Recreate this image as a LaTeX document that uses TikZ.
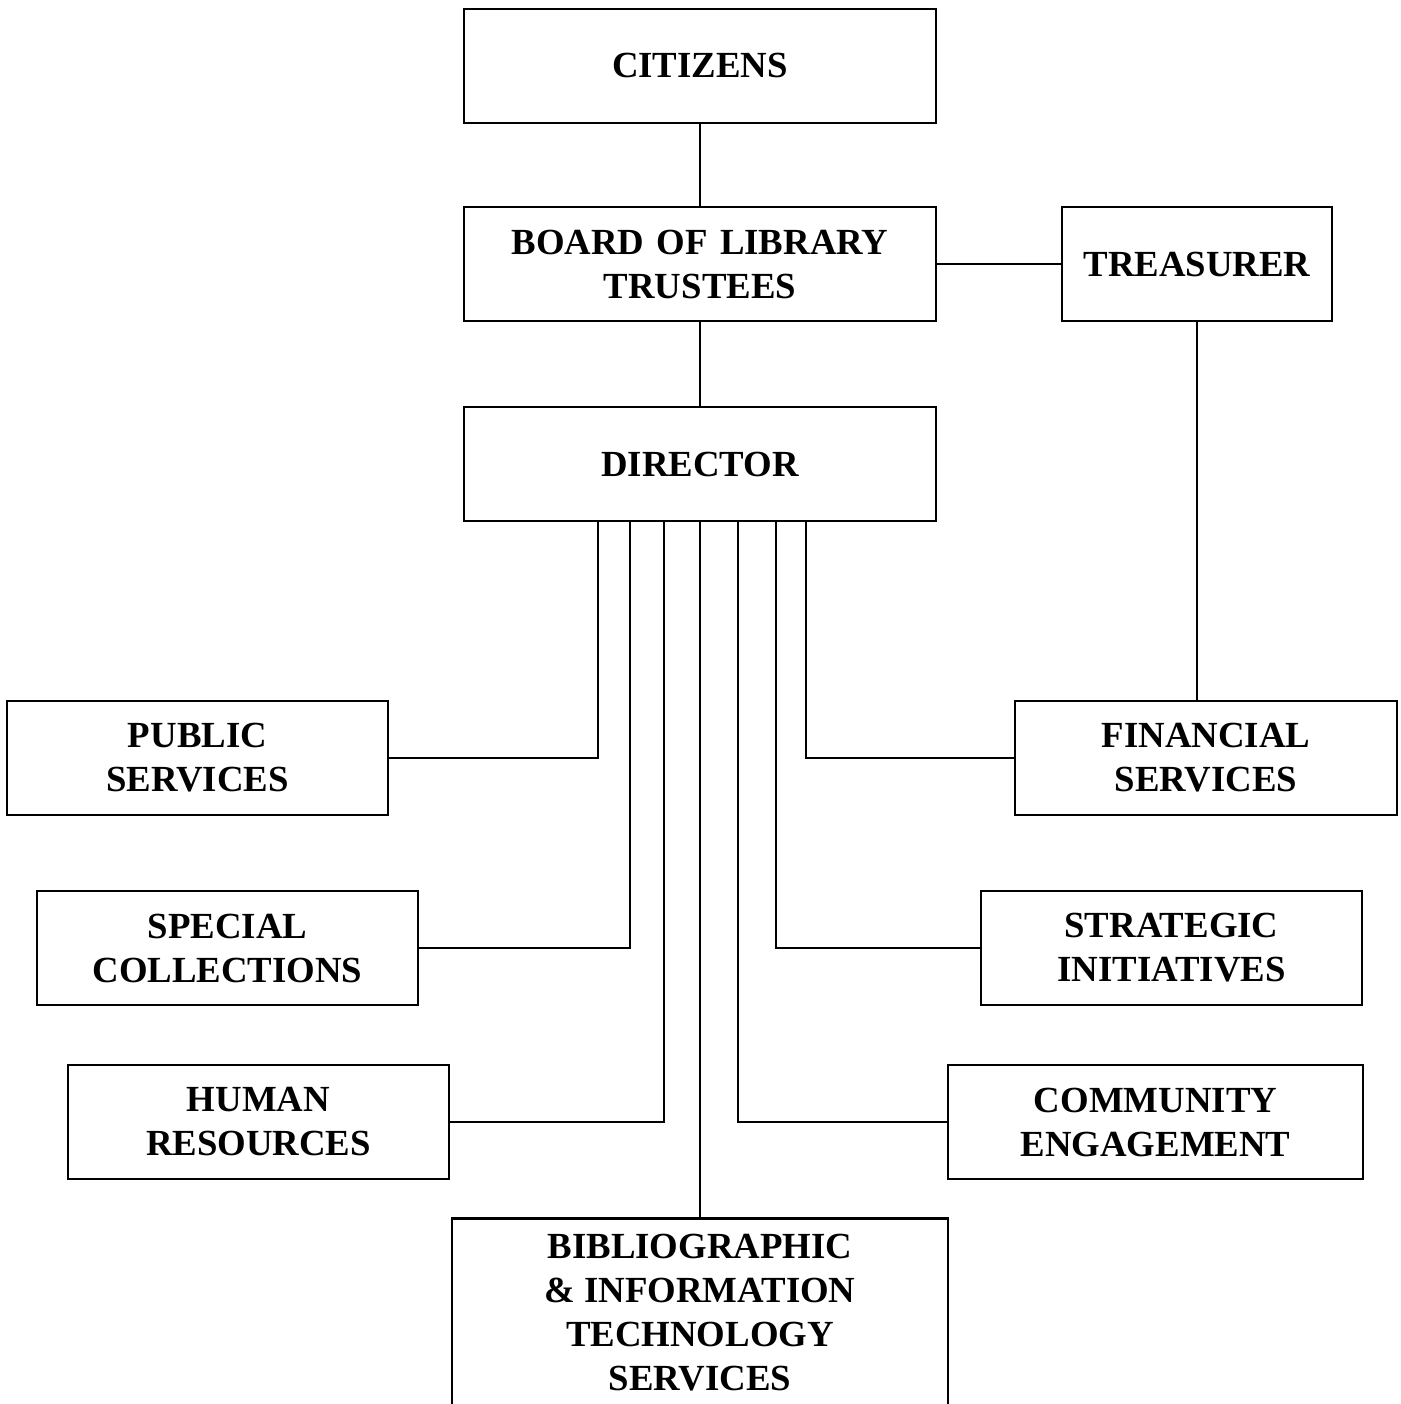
\documentclass[tikz,border=0pt]{standalone}
\usepackage{fontspec}
\setmainfont{Liberation Serif}
\usetikzlibrary{calc}
\begin{document}
\begin{tikzpicture}[x=1pt,y=-1pt,
  box/.style={draw, line width=2.8pt, inner sep=0pt, align=center,
    font=\fontsize{36.8}{44}\selectfont\bfseries},
  conn/.style={line width=2.8pt}]
\useasboundingbox (0,0) rectangle (1400,1404);
\newcommand{\mkbox}[6]{%
  \node[box, minimum width=#4-#2, minimum height=#5-#3, text width=#4-#2]
    (#1) at ({(#2+#4)/2},{(#3+#5)/2}) {#6};}
\mkbox{cit}{464}{9}{936}{123}{CITIZENS}
\mkbox{brd}{464}{207}{936}{321}{BOARD OF LIBRARY\\TRUSTEES}
\mkbox{tre}{1062}{207}{1332}{321}{TREASURER}
\mkbox{dir}{464}{407}{936}{521}{DIRECTOR}
\mkbox{pub}{7}{701}{388}{815}{PUBLIC\\SERVICES}
\mkbox{fin}{1015}{701}{1397}{815}{FINANCIAL\\SERVICES}
\mkbox{spc}{37}{891}{418}{1005}{SPECIAL\\COLLECTIONS}
\mkbox{str}{981}{891}{1362}{1005}{STRATEGIC\\INITIATIVES}
\mkbox{hum}{68}{1065}{449}{1179}{HUMAN\\RESOURCES}
\mkbox{com}{948}{1065}{1363}{1179}{COMMUNITY\\ENGAGEMENT}
\node[box, minimum width=496, minimum height=210, text width=496, anchor=north]
  (bib) at (700,1217) {};
\node[font=\fontsize{36.8}{44}\selectfont\bfseries, align=center, anchor=north, inner sep=0pt]
  (bibt) at (700,1234) {BIBLIOGRAPHIC\\\& INFORMATION\\TECHNOLOGY\\SERVICES};
\draw[conn] (cit) -- (brd);
\draw[conn] (brd) -- (dir);
\draw[conn] (brd.east) -- (tre.west);
\draw[conn] (tre.south) -- (tre.south |- fin.north);
\draw[conn] ([xshift=-102pt]dir.south) |- (pub.east);
\draw[conn] ([xshift=-70pt]dir.south) |- (spc.east);
\draw[conn] ([xshift=-36pt]dir.south) |- (hum.east);
\draw[conn] (dir.south) -- (bib.north);
\draw[conn] ([xshift=38pt]dir.south) |- (com.west);
\draw[conn] ([xshift=76pt]dir.south) |- (str.west);
\draw[conn] ([xshift=106pt]dir.south) |- (fin.west);
\end{tikzpicture}
\end{document}
